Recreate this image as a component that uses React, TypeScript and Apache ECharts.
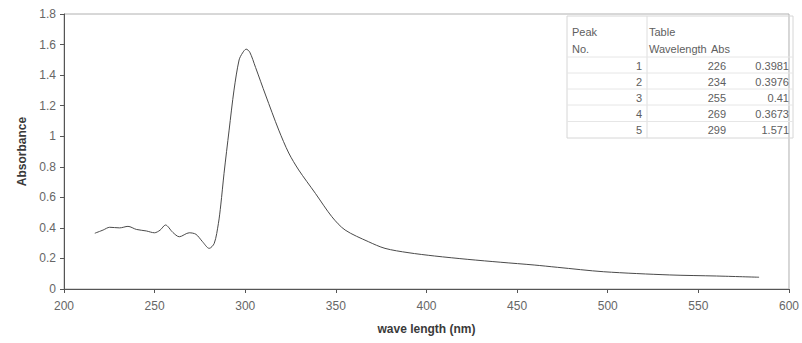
import React, { useEffect, useRef } from "react";
import * as echarts from "echarts";

// Spectrum (wavelength nm, absorbance)
const wavelength = [
  217, 221.6, 225.2, 230.7, 235.3, 239.9, 245.4, 249.9, 253, 256, 260, 263.6, 269.1, 272.8,
  276.4, 280.1, 282.9, 285.2, 286.5, 288.3, 291.1, 293.8, 296.6, 298.5, 300.5, 302.5, 305.7,
  311.2, 318.5, 324, 329.5, 338.7, 347.8, 355.1, 367.9, 377.1, 389.8, 404.5, 422.8, 441,
  459.4, 472.2, 497.8, 534.2, 560, 583.5,
];
const absorbance = [
  0.365, 0.386, 0.404, 0.4, 0.41, 0.39, 0.38, 0.368, 0.385, 0.419, 0.371, 0.342, 0.368, 0.358,
  0.31, 0.266, 0.299, 0.43, 0.55, 0.757, 1.04, 1.302, 1.499, 1.545, 1.57, 1.55, 1.45,
  1.27, 1.04, 0.89, 0.779, 0.626, 0.473, 0.386, 0.31, 0.266, 0.238, 0.216, 0.194, 0.175,
  0.157, 0.142, 0.113, 0.092, 0.085, 0.077,
];

// Peak table
const tableHeader1 = ["Peak", "Table", ""];
const tableHeader2 = ["No.", "Wavelength", "Abs"];
const peakNo = ["1", "2", "3", "4", "5"];
const peakWavelength = ["226", "234", "255", "269", "299"];
const peakAbs = ["0.3981", "0.3976", "0.41", "0.3673", "1.571"];

const FONT = "'Liberation Sans', Arial, sans-serif";

export default function App() {
  const ref = useRef<HTMLDivElement>(null);
  useEffect(() => {
    if (!ref.current) return;
    const chart = echarts.init(ref.current, undefined, { renderer: "svg" });
    const data = wavelength.map((w, i) => [w, absorbance[i]]);

    const txtColor = "#5e5e5e";
    const rowY = [65.5, 81.5, 97.5, 113.5, 130];
    const graphics: any[] = [];
    graphics.push({
      type: "rect",
      shape: { x: 567, y: 16, width: 226, height: 122 },
      style: { fill: "none", stroke: "#d6d6d6", lineWidth: 1 },
      silent: true,
    });
    graphics.push({
      type: "line",
      shape: { x1: 647, y1: 16, x2: 647, y2: 138 },
      style: { stroke: "#dedede", lineWidth: 1 },
    });
    [57, 73, 89, 105, 121.5].forEach((y) => {
      graphics.push({
        type: "line",
        shape: { x1: 567, y1: y, x2: 793, y2: y },
        style: { stroke: "#e6e6e6", lineWidth: 1 },
      });
    });
    const headerX = [572, 649, 711];
    [tableHeader1, tableHeader2].forEach((row, r) => {
      row.forEach((t, c) => {
        if (!t) return;
        graphics.push({
          type: "text",
          x: headerX[c],
          y: r === 0 ? 32 : 48.5,
          style: { text: t, fill: txtColor, font: `11px ${FONT}`, textAlign: "left", textVerticalAlign: "middle" },
        });
      });
    });
    const colRight = [642, 726, 789];
    [peakNo, peakWavelength, peakAbs].forEach((col, c) => {
      col.forEach((t, i) => {
        graphics.push({
          type: "text",
          x: colRight[c],
          y: rowY[i],
          style: { text: t, fill: txtColor, font: `11px ${FONT}`, textAlign: "right", textVerticalAlign: "middle" },
        });
      });
    });

    chart.setOption({
      animation: false,
      backgroundColor: "#ffffff",
      grid: {
        left: 64,
        right: 9,
        top: 14,
        bottom: 54,
        show: true,
        borderColor: "#b0b0b0",
        borderWidth: 1,
        backgroundColor: "transparent",
      },
      xAxis: {
        type: "value",
        min: 200,
        max: 600,
        interval: 50,
        name: "wave length (nm)",
        nameLocation: "middle",
        nameGap: 34,
        nameTextStyle: { fontFamily: FONT, fontSize: 12, fontWeight: "bold", color: "#3a3a3a" },
        axisLine: { show: true, onZero: false, lineStyle: { color: "#555", width: 1 } },
        axisTick: { show: true, inside: false, length: 4, lineStyle: { color: "#555" } },
        axisLabel: { fontFamily: FONT, fontSize: 12, color: "#666", margin: 11 },
        splitLine: { show: false },
      },
      yAxis: {
        type: "value",
        min: 0,
        max: 1.8,
        interval: 0.2,
        name: "Absorbance",
        nameLocation: "middle",
        nameGap: 36,
        nameRotate: 90,
        nameTextStyle: { fontFamily: FONT, fontSize: 12, fontWeight: "bold", color: "#3a3a3a" },
        axisLine: { show: true, lineStyle: { color: "#555", width: 1 } },
        axisTick: { show: true, inside: false, length: 4, lineStyle: { color: "#555" } },
        axisLabel: {
          fontFamily: FONT,
          fontSize: 12,
          color: "#666",
          margin: 8,
          formatter: (v: number) => String(parseFloat(v.toFixed(1))),
        },
        splitLine: { show: false },
      },
      series: [
        {
          type: "line",
          data,
          smooth: 0.3,
          showSymbol: false,
          lineStyle: { color: "#4a4a4a", width: 1 },
        },
      ],
      graphic: graphics,
    });
    return () => chart.dispose();
  }, []);
  return <div ref={ref} style={{ position: "fixed", left: 0, top: 0, width: 802, height: 343 }} />;
}
